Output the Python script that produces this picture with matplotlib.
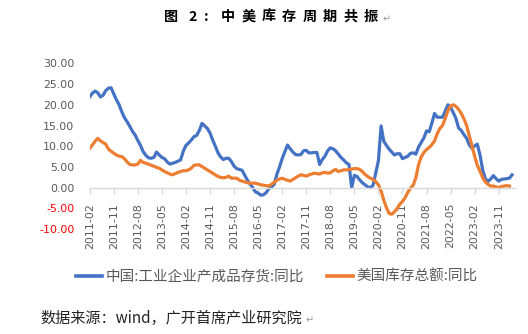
import matplotlib
matplotlib.use("Agg")
import matplotlib.pyplot as plt
import pandas as pd
import numpy as np

plt.rcParams['font.family'] = ['Noto Sans CJK SC', 'DejaVu Sans']

# monthly series, 2011-02 .. 2024-04
months = pd.date_range('2011-02-01', periods=159, freq='MS').strftime('%Y-%m').tolist()

china_inv = [
    21.9, 22.8, 23.3, 22.9, 21.9, 22.3, 23.4, 24.0, 24.1, 22.6,
    21.2, 20.0, 18.3, 16.9, 15.9, 14.8, 13.6, 12.7, 11.4, 10.2,
    8.7, 7.8, 7.2, 7.1, 7.3, 8.6, 7.9, 7.3, 7.0, 6.2,
    5.7, 5.9, 6.1, 6.4, 6.7, 8.8, 10.2, 10.8, 11.5, 12.3,
    12.6, 13.8, 15.5, 14.9, 14.3, 13.2, 11.5, 10.0, 8.4, 7.4,
    6.8, 7.1, 7.1, 6.3, 5.2, 4.6, 4.4, 4.2, 3.0, 1.8,
    0.9, 0.0, -1.0, -1.3, -1.8, -1.7, -1.2, -0.2, 0.2, 0.8,
    3.2, 5.0, 7.0, 8.7, 10.3, 9.4, 8.6, 8.0, 7.9, 8.0,
    8.9, 9.0, 8.4, 8.4, 8.5, 8.5, 5.6, 6.8, 7.6, 8.9,
    9.6, 9.4, 8.9, 8.1, 7.3, 6.7, 6.0, 5.6, 0.0, 3.0,
    2.7, 1.9, 1.2, 0.7, 0.2, 0.0, 0.6, 3.5, 6.5, 14.9,
    11.2, 10.2, 9.3, 8.6, 7.9, 8.2, 8.2, 7.0, 7.3, 7.6,
    8.3, 8.4, 8.1, 9.8, 10.9, 12.0, 13.7, 13.5, 15.6, 17.9,
    17.0, 17.0, 17.0, 18.5, 20.0, 19.4, 18.1, 16.7, 14.4, 13.8,
    12.8, 11.9, 10.3, 9.5, 10.1, 10.5, 7.9, 4.3, 2.2, 1.5,
    2.1, 2.9, 2.2, 1.6, 2.0, 2.1, 2.2, 2.3, 3.1,
]

us_inv = [
    9.5, 10.3, 11.2, 11.9, 11.3, 10.9, 10.5, 9.3, 8.8, 8.3,
    7.9, 7.6, 7.5, 7.0, 6.2, 5.6, 5.5, 5.5, 5.7, 6.6,
    6.1, 5.9, 5.7, 5.4, 5.2, 4.9, 4.7, 4.3, 3.9, 3.6,
    3.3, 3.1, 3.4, 3.7, 3.9, 4.1, 4.1, 4.3, 4.7, 5.4,
    5.5, 5.5, 5.1, 4.7, 4.3, 3.9, 3.5, 3.1, 2.7, 2.5,
    2.4, 2.5, 2.8, 2.3, 2.3, 2.3, 1.8, 1.6, 1.4, 1.2,
    1.1, 1.1, 1.1, 0.9, 0.7, 0.6, 0.5, 0.4, 0.8, 1.3,
    1.8, 2.1, 2.3, 2.0, 1.8, 1.6, 2.0, 2.4, 2.8, 3.1,
    3.0, 2.8, 3.1, 3.3, 3.5, 3.4, 3.3, 3.6, 3.7, 3.5,
    3.6, 4.1, 4.4, 3.9, 4.1, 4.3, 4.3, 4.4, 4.5, 4.6,
    4.6, 4.4, 3.9, 3.2, 2.7, 2.3, 2.0, 1.5, 0.7, -0.8,
    -3.0, -4.8, -6.2, -6.4, -5.8, -5.0, -4.0, -3.3, -2.4, -1.1,
    -0.1, 0.6, 2.4, 5.5, 7.4, 8.5, 9.2, 9.7, 10.4, 11.3,
    13.0, 14.3, 15.0, 16.7, 18.6, 19.7, 20.0, 19.6, 18.9, 17.9,
    16.6, 15.0, 12.5, 10.0, 7.6, 5.4, 4.0, 2.4, 1.4, 0.8,
    0.4, 0.4, 0.2, 0.0, 0.3, 0.4, 0.5, 0.4, np.nan,
]

y_ticks = [30, 25, 20, 15, 10, 5, 0, -5, -10]
series_names = ['中国:工业企业产成品存货:同比', '美国库存总额:同比']

gray = '#595959'
axis_gray = '#D9D9D9'

fig = plt.figure(figsize=(5.28, 3.34), dpi=100)
ax = fig.add_axes([0.1699, 0.3138, 0.805, 0.4967])

x = np.arange(len(months))
ax.plot(x, china_inv, color='#4472C4', lw=2.3, solid_joinstyle='round', label=series_names[0])
ax.plot(x, us_inv, color='#ED7D31', lw=2.3, solid_joinstyle='round', label=series_names[1])

ax.set_xlim(0, len(months))
ax.set_ylim(-10, 30)

for s in ['top', 'right', 'left']:
    ax.spines[s].set_visible(False)
ax.spines['bottom'].set_position(('data', 0))
ax.spines['bottom'].set_color(axis_gray)
ax.spines['bottom'].set_linewidth(1.0)

xt = x[::9]
ax.set_xticks(xt)
ax.set_xticklabels([months[i] for i in xt], rotation=90, family='DejaVu Sans',
                   fontsize=7.9, color=gray)
ax.tick_params(axis='x', direction='out', length=4, width=1, color=axis_gray, pad=7)

ax.set_yticks(y_ticks)
ax.set_yticklabels([f'{v:.2f}' for v in y_ticks], family='DejaVu Sans', fontsize=7.9)
for lab, v in zip(ax.get_yticklabels(), y_ticks):
    lab.set_color('red' if v < 0 else gray)
ax.tick_params(axis='y', length=0, pad=11)

# legend
leg = fig.legend(loc='center', bbox_to_anchor=(0.5237, 0.1716), ncol=2, frameon=False,
                 fontsize=10.5, handlelength=1.8, handletextpad=0.2, columnspacing=1.6)
for t in leg.get_texts():
    t.set_color(gray)
for h in leg.get_lines():
    h.set_linewidth(2.6)

# title, one character at a time for the wide letter spacing
title_chars = ['图', '2', ':', '中', '美', '库', '存', '周', '期', '共', '振']
title_x = [171, 192.5, 206.5, 228, 248.4, 268.8, 289.2, 309.6, 330, 350.4, 370.8]
for ch, px in zip(title_chars, title_x):
    fig.text(px / 528, 1 - 17 / 334, ch, ha='center', va='center', fontsize=10.2,
             fontweight='bold', color='black')
fig.text(383 / 528, 1 - 19 / 334, '↵', ha='left', va='center', fontsize=7, color='#999999',
         family=['Noto Sans CJK SC', 'DejaVu Sans'])

fig.text(40 / 528, 1 - 318 / 334, '数据来源：wind，广开首席产业研究院', ha='left', va='center',
         fontsize=10.9, fontweight='medium', color='#222222')
fig.text(306 / 528, 1 - 320 / 334, '↵', ha='left', va='center', fontsize=7, color='#999999',
         family=['Noto Sans CJK SC', 'DejaVu Sans'])

fig.savefig('out.png', dpi=100)
